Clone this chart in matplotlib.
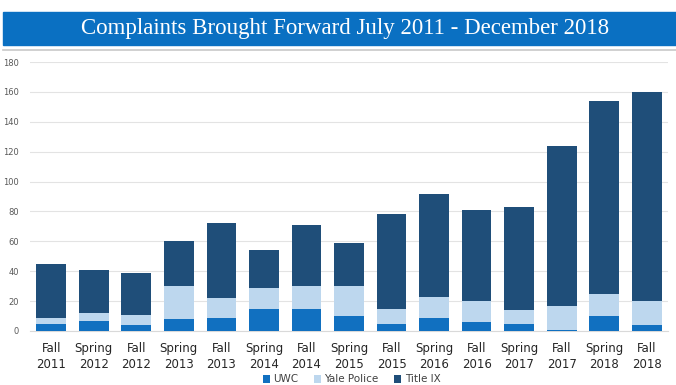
import matplotlib.pyplot as plt
import numpy as np
from matplotlib.patches import Rectangle

# semesters and counts per source
terms = ["Fall\n2011", "Spring\n2012", "Fall\n2012", "Spring\n2013", "Fall\n2013",
         "Spring\n2014", "Fall\n2014", "Spring\n2015", "Fall\n2015", "Spring\n2016",
         "Fall\n2016", "Spring\n2017", "Fall\n2017", "Spring\n2018", "Fall\n2018"]
uwc = [5, 7, 4, 8, 9, 15, 15, 10, 5, 9, 6, 5, 1, 10, 4]
yale_police = [4, 5, 7, 22, 13, 14, 15, 20, 10, 14, 14, 9, 16, 15, 16]
title_ix = [36, 29, 28, 30, 50, 25, 41, 29, 63, 69, 61, 69, 107, 129, 140]

c_uwc = "#1170C0"
c_yale = "#BDD7EE"
c_tix = "#1F4E79"

fig = plt.figure(figsize=(6.76, 3.85), dpi=100)

# title banner
fig.patches.append(Rectangle((0.005, 340 / 385), 0.995, 33 / 385, transform=fig.transFigure,
                             color="#0A70C2", zorder=0))
fig.text(0.51, 356.5 / 385, "Complaints Brought Forward July 2011 - December 2018",
         ha="center", va="center", color="white", fontsize=16.5, family="Liberation Serif")
fig.add_artist(plt.Line2D([0.005, 1], [335 / 385, 335 / 385], transform=fig.transFigure,
                          color="#C8C8C8", lw=1.2))

ax = fig.add_axes([30 / 676, 54 / 385, 638 / 676, 269 / 385])
x = np.arange(len(terms))
w = 0.7
u = np.array(uwc)
y = np.array(yale_police)
t = np.array(title_ix)
ax.bar(x, u, w, color=c_uwc, label="UWC", zorder=3)
ax.bar(x, y, w, bottom=u, color=c_yale, label="Yale Police", zorder=3)
ax.bar(x, t, w, bottom=u + y, color=c_tix, label="Title IX", zorder=3)

ax.set_xlim(-0.5, len(terms) - 0.5)
ax.set_ylim(0, 180)
ax.set_yticks(range(0, 181, 20))
ax.grid(axis="y", color="#E3E3E3", lw=0.8, zorder=0)
for s in ["top", "right", "left"]:
    ax.spines[s].set_visible(False)
ax.spines["bottom"].set_color("#D9D9D9")
ax.tick_params(axis="y", length=0, labelsize=6, labelcolor="#595959", pad=8)
ax.tick_params(axis="x", length=0, labelsize=8.5, labelcolor="#262626", pad=8)
ax.set_xticks(x)
ax.set_xticklabels(terms, linespacing=1.3)

fig.legend(*ax.get_legend_handles_labels(), loc="center", bbox_to_anchor=(0.52, 5.5 / 385),
           ncol=3, frameon=False, fontsize=7.5, handlelength=0.7, handleheight=0.7,
           columnspacing=1.5, handletextpad=0.3, labelcolor="#404040", borderpad=0)

fig.savefig("out.png", dpi=100)
